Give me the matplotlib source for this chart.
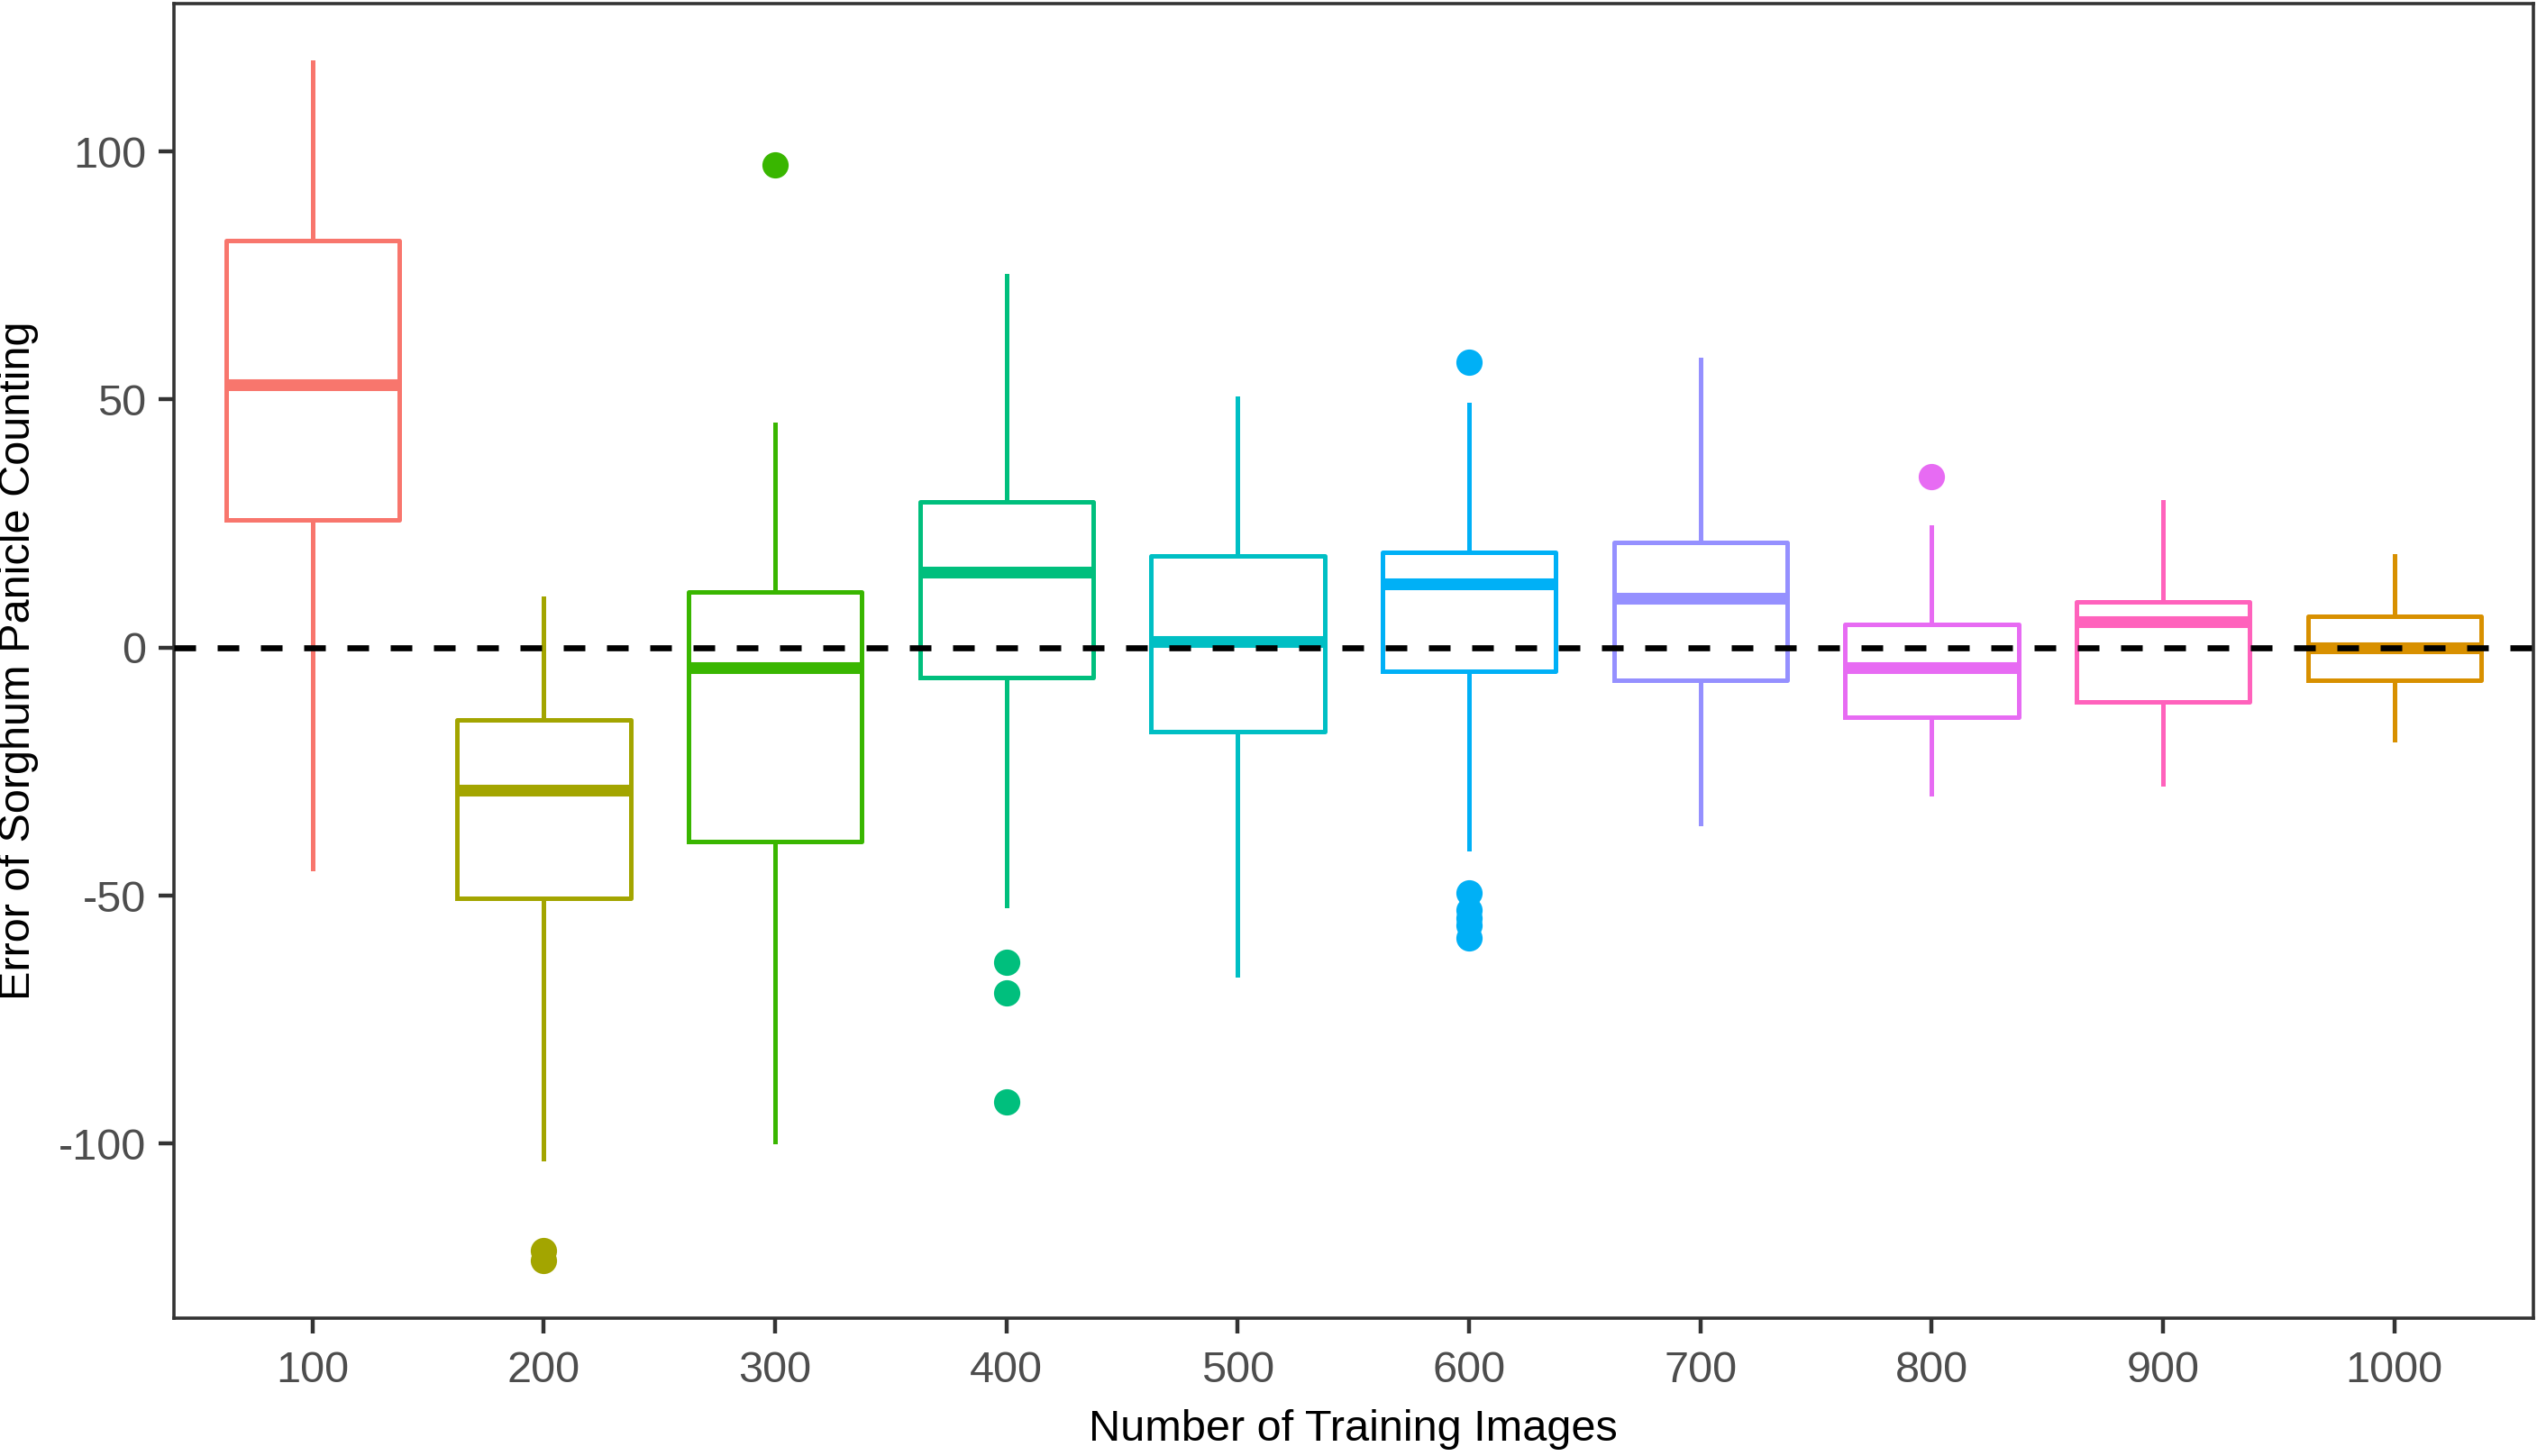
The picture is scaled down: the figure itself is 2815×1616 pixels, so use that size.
import matplotlib
matplotlib.use("Agg")
import matplotlib.pyplot as plt

plt.rcParams['font.family'] = ['Liberation Sans', 'DejaVu Sans']

categories = ["100", "200", "300", "400", "500", "600", "700", "800", "900", "1000"]
whisker_low = [-44.5, -103, -99.5, -52, -66, -40.5, -35.5, -29.5, -27.5, -18.5]
q1 = [25.7, -50.5, -39, -6, -17, -4.8, -6.5, -14, -11, -6.5]
median = [53, -28.7, -4, 15.2, 1.3, 12.8, 10, -4, 5.2, 0]
q3 = [82, -14.5, 11.3, 29.3, 18.5, 19.2, 21.2, 4.6, 9.3, 6.3]
whisker_high = [118, 10, 45, 75, 50.3, 49, 58, 24.3, 29.3, 18.5]
outliers = [[], [-121.5, -123.5], [97.3], [-63.5, -69.5, -91.5],
            [], [57.5, -49.5, -52.8, -54.5, -56, -58.5], [], [34.5], [], []]
colors = ["#F8766D", "#A3A500", "#39B600", "#00BF7D", "#00BFC4",
          "#00B0F6", "#9590FF", "#E76BF3", "#FF62BC", "#D89000"]

fig = plt.figure(figsize=(14.075, 8.08), dpi=200)
ax = fig.add_axes([0.0685, 0.0945, 0.930, 0.903])

positions = list(range(1, len(categories) + 1))
for i, cat in enumerate(categories):
    stats = [dict(med=median[i], q1=q1[i], q3=q3[i], whislo=whisker_low[i],
                  whishi=whisker_high[i], fliers=outliers[i], label=cat)]
    c = colors[i]
    ax.bxp(stats, positions=[positions[i]], widths=0.75, showcaps=False,
           boxprops=dict(color=c, linewidth=1.8),
           whiskerprops=dict(color=c, linewidth=1.8),
           medianprops=dict(color=c, linewidth=4.7, solid_capstyle='butt'),
           flierprops=dict(marker='o', markerfacecolor=c, markeredgecolor=c,
                           markersize=9.5, linestyle='none'),
           manage_ticks=False)

ax.axhline(0, color='black', linewidth=2.4, linestyle=(0, (3.6, 3.6)), zorder=5)

ax.set_xlim(0.4, len(categories) + 0.6)
ax.set_ylim(-135.2, 129.8)
ax.set_xticks(positions)
ax.set_xticklabels(categories)
ax.set_yticks([-100, -50, 0, 50, 100])
ax.set_yticklabels(["-100", "-50", "0", "50", "100"])

for sp in ax.spines.values():
    sp.set_linewidth(1.3)
    sp.set_color('#333333')

ax.tick_params(axis='both', length=6, width=1.6, color='#333333',
               labelsize=17.5, labelcolor='#4D4D4D', pad=5)
ax.tick_params(axis='x', pad=7)
ax.set_xlabel("Number of Training Images", fontsize=17.5, color='black', labelpad=7)
ax.set_ylabel("Error of Sorghum Panicle Counting", fontsize=17.5, color='black', labelpad=8)

fig.savefig("out.png", dpi=200, facecolor='white')
